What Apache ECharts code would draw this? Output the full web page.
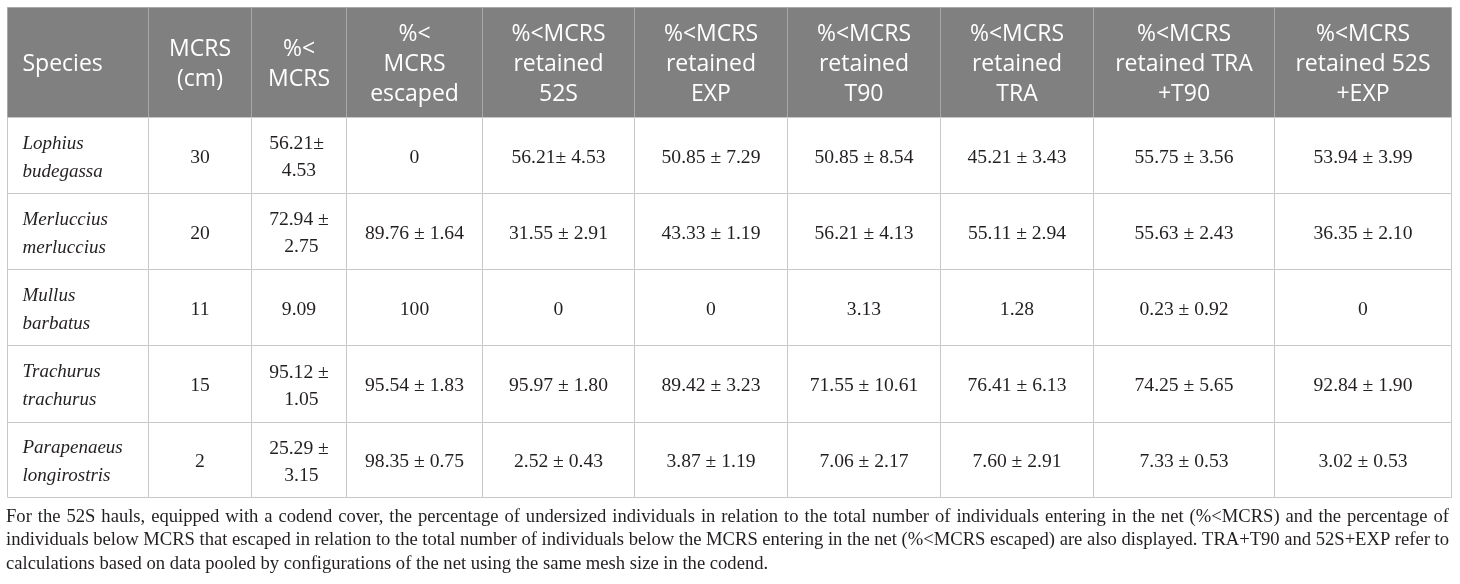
<!DOCTYPE html>
<html><head><meta charset="utf-8">
<script src="https://cdn.jsdelivr.net/npm/echarts@6/dist/echarts.min.js"></script>
<style>html,body{margin:0;padding:0;background:#fff}#c{width:1460px;height:584px}</style>
</head><body><div id="c"></div>
<script>
// ---- data ----
const headers = ['Species', 'MCRS\n(cm)', '%<\nMCRS', '%<\nMCRS\nescaped',
  '%<MCRS\nretained\n52S', '%<MCRS\nretained\nEXP', '%<MCRS\nretained\nT90',
  '%<MCRS\nretained\nTRA', '%<MCRS\nretained TRA\n+T90', '%<MCRS\nretained 52S\n+EXP'];
const species = ['Lophius budegassa', 'Merluccius merluccius', 'Mullus barbatus', 'Trachurus trachurus', 'Parapenaeus longirostris'];
const mcrsCm = ['30', '20', '11', '15', '2'];
const pctBelowMCRS = ['56.21± 4.53', '72.94 ± 2.75', '9.09', '95.12 ± 1.05', '25.29 ± 3.15'];
const pctEscaped = ['0', '89.76 ± 1.64', '100', '95.54 ± 1.83', '98.35 ± 0.75'];
const retained52S = ['56.21± 4.53', '31.55 ± 2.91', '0', '95.97 ± 1.80', '2.52 ± 0.43'];
const retainedEXP = ['50.85 ± 7.29', '43.33 ± 1.19', '0', '89.42 ± 3.23', '3.87 ± 1.19'];
const retainedT90 = ['50.85 ± 8.54', '56.21 ± 4.13', '3.13', '71.55 ± 10.61', '7.06 ± 2.17'];
const retainedTRA = ['45.21 ± 3.43', '55.11 ± 2.94', '1.28', '76.41 ± 6.13', '7.60 ± 2.91'];
const retainedTRAT90 = ['55.75 ± 3.56', '55.63 ± 2.43', '0.23 ± 0.92', '74.25 ± 5.65', '7.33 ± 0.53'];
const retained52SEXP = ['53.94 ± 3.99', '36.35 ± 2.10', '0', '92.84 ± 1.90', '3.02 ± 0.53'];
const footnoteLines = [
  'For the 52S hauls, equipped with a codend cover, the percentage of undersized individuals in relation to the total number of individuals entering in the net (%<MCRS) and the percentage of',
  'individuals below MCRS that escaped in relation to the total number of individuals below the MCRS entering in the net (%<MCRS escaped) are also displayed. TRA+T90 and 52S+EXP refer to',
  'calculations based on data pooled by configurations of the net using the same mesh size in the codend.'
];

// ---- layout ----
const columns = [species, mcrsCm, pctBelowMCRS, pctEscaped, retained52S, retainedEXP, retainedT90, retainedTRA, retainedTRAT90, retained52SEXP];
const colEdges = [7, 148, 251, 346, 482, 634, 787, 940, 1093, 1274, 1451];
const rowEdges = [7, 117, 193, 269, 345, 422, 497];
const W = 1460, H = 584;

const headerCells = [], bodyCells = [];
for (let c = 0; c < columns.length; c++) headerCells.push([c, 0]);
for (let r = 0; r < species.length; r++)
  for (let c = 0; c < columns.length; c++) bodyCells.push([c, r + 1]);

function renderCell(params, api) {
  const c = api.value(0), r = api.value(1);
  const p0 = api.coord([colEdges[c], rowEdges[r]]);
  const p1 = api.coord([colEdges[c + 1], rowEdges[r + 1]]);
  const x = Math.round(p0[0]) + 0.5, y = Math.round(p0[1]) + 0.5;
  const w = Math.round(p1[0]) - Math.round(p0[0]);
  const h = Math.round(p1[1]) - Math.round(p0[1]);
  const head = r === 0;
  let text = head ? headers[c] : columns[c][r - 1];
  const left = c === 0;
  let style;
  if (head) {
    style = { text, fill: '#ffffff', fontFamily: 'Open Sans', fontSize: 23, lineHeight: 30,
      align: left ? 'left' : 'center', verticalAlign: 'middle' };
  } else if (left) {
    style = { text: text.replace(' ', '\n'), fill: '#231f20', fontFamily: 'Liberation Serif', fontStyle: 'italic',
      fontSize: 19, lineHeight: 28, align: 'left', verticalAlign: 'middle' };
  } else {
    style = { text, fill: '#231f20', fontFamily: 'Liberation Serif', fontSize: 19.6, lineHeight: 27,
      align: 'center', verticalAlign: 'middle', width: w - 22, overflow: 'break' };
  }
  return {
    type: 'group',
    children: [
      { type: 'rect', shape: { x, y, width: w, height: h },
        style: { fill: head ? '#808080' : '#ffffff', stroke: head ? '#a8a8a8' : '#c8c8c8', lineWidth: 1 } },
      { type: 'text', x: left ? x + 15 : x + w / 2, y: y + h / 2 + 2, style }
    ]
  };
}

// footnote: justified lines
const fnFont = 18.6, fnFamily = 'Liberation Serif';
const ctx = document.createElement('canvas').getContext('2d');
ctx.font = fnFont + 'px "' + fnFamily + '"';
const fnLeft = 6, fnRight = 1449, fnTop = 517, fnLH = 23.5;
const graphics = [];
footnoteLines.forEach((line, i) => {
  const yy = fnTop + i * fnLH;
  const words = line.split(' ');
  if (i < footnoteLines.length - 1) {
    const widths = words.map(wd => ctx.measureText(wd).width);
    const total = widths.reduce((a, b) => a + b, 0);
    const gap = (fnRight - fnLeft - total) / (words.length - 1);
    let xx = fnLeft;
    words.forEach((wd, k) => {
      graphics.push({ type: 'text', x: xx, y: yy, silent: true,
        style: { text: wd, fill: '#231f20', font: fnFont + 'px "' + fnFamily + '"', verticalAlign: 'middle', align: 'left' } });
      xx += widths[k] + gap;
    });
  } else {
    graphics.push({ type: 'text', x: fnLeft, y: yy, silent: true,
      style: { text: line, fill: '#231f20', font: fnFont + 'px "' + fnFamily + '"', verticalAlign: 'middle', align: 'left' } });
  }
});

const chart = echarts.init(document.getElementById('c'), null, { renderer: 'canvas' });
chart.setOption({
  animation: false,
  backgroundColor: '#ffffff',
  grid: { left: 0, right: 0, top: 0, bottom: 0 },
  xAxis: { type: 'value', min: 0, max: W, show: false },
  yAxis: { type: 'value', min: 0, max: H, inverse: true, show: false },
  graphic: graphics,
  series: [
    { type: 'custom', renderItem: renderCell, data: headerCells, silent: true, clip: false },
    { type: 'custom', renderItem: renderCell, data: bodyCells, silent: true, clip: false }
  ]
});
</script></body></html>
